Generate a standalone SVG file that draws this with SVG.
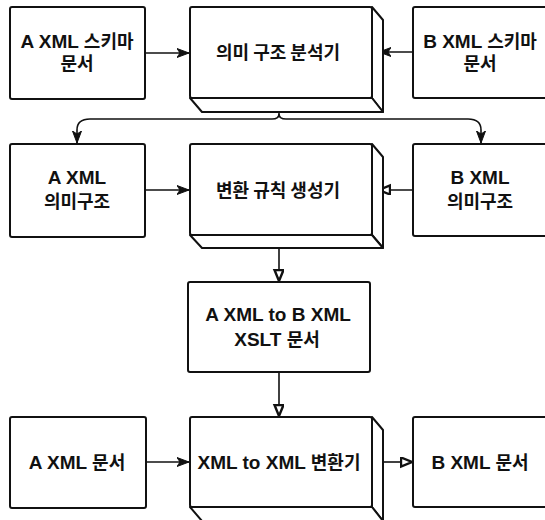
<svg xmlns="http://www.w3.org/2000/svg" width="545" height="520" viewBox="0 0 545 520">
<style>
.box{fill:#fff;stroke:#111;stroke-width:2;stroke-linejoin:round}
.side{fill:#fff;stroke:#111;stroke-width:2;stroke-linejoin:round}
.t{font-family:"Liberation Sans","Noto Sans CJK KR",sans-serif;font-size:19px;font-weight:bold;fill:#111;text-anchor:middle}
.k{font-family:"Noto Sans CJK KR",sans-serif;font-weight:bold;font-size:18px}
.c{fill:none;stroke:#111;stroke-width:1.6}
</style>
<defs>
<marker id="af" markerUnits="userSpaceOnUse" markerWidth="14" markerHeight="12" refX="12" refY="5" orient="auto">
<path d="M0,0.5 L12,5 L0,9.5 L3,5 Z" fill="#111" stroke="#111" stroke-width="1"/>
</marker>
<marker id="ao" markerUnits="userSpaceOnUse" markerWidth="14" markerHeight="12" refX="12" refY="5" orient="auto">
<path d="M1,0.5 L12,5 L1,9.5 Z" fill="#fff" stroke="#111" stroke-width="2.4"/>
</marker>
</defs>

<g id="connectors">
<path class="c" d="M145,53 H189" marker-end="url(#af)"/>
<path class="c" d="M413,52 H379" marker-end="url(#af)"/>
<path class="c" d="M279,112 V114 Q279,119 272,119 H90 Q77,119 77,130 V143" marker-end="url(#af)"/>
<path class="c" d="M279,114 Q279,119 286,119 H468 Q481,119 481,130 V143" marker-end="url(#af)"/>
<path class="c" d="M145,190 H189" marker-end="url(#af)"/>
<path class="c" d="M413,190 H379" marker-end="url(#ao)"/>
<path class="c" d="M279,248 V281" marker-end="url(#ao)"/>
<path class="c" d="M279,372 V416" marker-end="url(#ao)"/>
<path class="c" d="M146,462 H189" marker-end="url(#af)"/>
<path class="c" d="M383,462 H412" marker-end="url(#ao)"/>
</g>

<g id="a-schema">
<rect class="box" x="10" y="7" width="135" height="92" rx="2"/>
<text class="t" x="77" y="48">A XML <tspan class="k">스키마</tspan></text>
<text class="t k" x="77" y="70">문서</text>
</g>

<g id="analyzer">
<polygon class="side" points="372,7 383,20 383,112 372,98"/>
<polygon class="side" points="190,98 202,112 383,112 372,98"/>
<rect class="box" x="190" y="7" width="182" height="91" rx="2"/>
<text class="t k" x="278" y="59">의미 구조 분석기</text>
</g>

<g id="b-schema">
<rect class="box" x="413" y="7" width="140" height="91" rx="2"/>
<text class="t" x="480" y="48">B XML <tspan class="k">스키마</tspan></text>
<text class="t k" x="480" y="70">문서</text>
</g>

<g id="a-semantic">
<rect class="box" x="10" y="144" width="135" height="93" rx="2"/>
<text class="t" x="77" y="184">A XML</text>
<text class="t k" x="77" y="208">의미구조</text>
</g>

<g id="rule-generator">
<polygon class="side" points="372,144 383,157 383,248 372,235"/>
<polygon class="side" points="190,235 202,248 383,248 372,235"/>
<rect class="box" x="190" y="144" width="182" height="91" rx="2"/>
<text class="t k" x="278" y="197">변환 규칙 생성기</text>
</g>

<g id="b-semantic">
<rect class="box" x="413" y="144" width="140" height="92" rx="2"/>
<text class="t" x="480" y="184">B XML</text>
<text class="t k" x="480" y="208">의미구조</text>
</g>

<g id="xslt">
<rect class="box" x="188" y="282" width="182" height="90" rx="2"/>
<text class="t" x="278" y="321">A XML to B XML</text>
<text class="t" x="277" y="346">XSLT <tspan class="k">문서</tspan></text>
</g>

<g id="a-doc">
<rect class="box" x="10" y="417" width="136" height="91" rx="2"/>
<text class="t" x="77" y="469">A XML <tspan class="k">문서</tspan></text>
</g>

<g id="converter">
<polygon class="side" points="372,417 383,430 383,521 372,507"/>
<polygon class="side" points="190,507 202,521 383,521 372,507"/>
<rect class="box" x="190" y="417" width="182" height="90" rx="2"/>
<text class="t" x="279" y="469">XML to XML <tspan class="k">변환기</tspan></text>
</g>

<g id="b-doc">
<rect class="box" x="413" y="417" width="140" height="90" rx="2"/>
<text class="t" x="480" y="469">B XML <tspan class="k">문서</tspan></text>
</g>
</svg>
